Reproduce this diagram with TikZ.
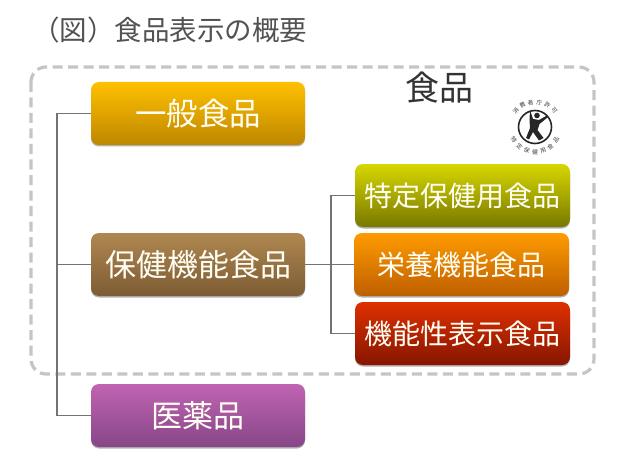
\documentclass[tikz,border=0pt]{standalone}
\usepackage{fontspec}
\setmainfont{Noto Sans CJK JP}
\usetikzlibrary{shadows}
\definecolor{linegray}{RGB}{115,115,115}
\definecolor{dashgray}{RGB}{195,198,201}
\newcommand{\lowered}[1]{\raisebox{-1.5pt}{#1}}
\tikzset{
  box/.style={rounded corners=8pt,minimum width=#1,minimum height=63pt,inner sep=0pt,text=white!96!yellow,
    drop shadow={shadow xshift=0pt,shadow yshift=-1.5pt,opacity=.3,fill=black}},
  box/.default=214pt,
  link/.style={draw=linegray,line width=1.6pt},
  logotext/.style={font=\fontsize{5.8}{5.8}\selectfont,text=black!75,inner sep=0pt}
}
\begin{document}
\begin{tikzpicture}[x=1pt,y=-1pt]
\useasboundingbox (0,0) rectangle (620,465);
\fill[white] (0,0) rectangle (620,465);
\node[anchor=west,inner sep=0pt,text=black!68,font=\fontsize{27.5}{27.5}\selectfont] (title) at (32,30) {（図）食品表示の概要};
\draw[dashgray,line width=3.2pt,dash pattern=on 10pt off 5.5pt,rounded corners=15pt] (31,67) rectangle (594,374);
\node[inner sep=0pt,text=black!80,font=\fontsize{34}{34}\selectfont] (food) at (439,88) {食品};

\node[box,shade,top color={rgb,255:red,255;green,192;blue,0},bottom color={rgb,255:red,190;green,135;blue,0},font=\fontsize{31.5}{31.5}\selectfont] (ippan) at (198,113.5) {\lowered{一般食品}};
\node[box,shade,top color={rgb,255:red,175;green,135;blue,80},bottom color={rgb,255:red,125;green,92;blue,52},font=\fontsize{31}{31}\selectfont] (hoken) at (198,264.5) {\lowered{保健機能食品}};
\node[box,shade,top color={rgb,255:red,192;green,100;blue,178},bottom color={rgb,255:red,135;green,70;blue,135},font=\fontsize{31}{31}\selectfont] (iyaku) at (198,415.5) {\lowered{医薬品}};
\node[box=215pt,shade,top color={rgb,255:red,215;green,215;blue,0},bottom color={rgb,255:red,120;green,120;blue,0},font=\fontsize{28}{28}\selectfont] (tokutei) at (462.5,195.5) {\lowered{特定保健用食品}};
\node[box=215pt,shade,top color={rgb,255:red,255;green,155;blue,0},bottom color={rgb,255:red,190;green,95;blue,0},font=\fontsize{28}{28}\selectfont] (eiyou) at (461.5,264.5) {\lowered{栄養機能食品}};
\node[box=215pt,shade,top color={rgb,255:red,222;green,48;blue,0},bottom color={rgb,255:red,135;green,22;blue,0},font=\fontsize{28}{28}\selectfont] (kinou) at (462.5,333.5) {\lowered{機能性表示食品}};

\draw[link] (ippan.west) -- ++(-34,0) |- (iyaku.west);
\draw[link] (hoken.west) -- ++(-34,0);
\draw[link] (hoken.east) -- (eiyou.west);
\draw[link] (tokutei.west) -- ++(-24,0) |- (kinou.west);

% logo
\draw[black!85,line width=1.6pt] (535,127) circle (16.5);
\fill[black!85] (537,115.5) circle (2.8)
  (530,110) -- (533,119) -- (539,120) -- (547,115.5) -- (547.5,117.5) -- (539.5,124) -- (537.5,130) -- (543.5,138) -- (539,140.5) -- (533,132) -- (529,139.5) -- (526,138) -- (530,128) -- (529.5,120) -- cycle;
\foreach \a/\t in {140/消,120/費,100/者,80/庁,60/許,40/可}{
  \node[logotext,rotate=\a-90] at ({535+25*cos(\a)},{127-25*sin(\a)}) {\t};
}
\foreach \a/\t in {212/特,232/定,251/保,270/健,289/用,308/食,328/品}{
  \node[logotext,rotate=\a+90] at ({535+25*cos(\a)},{127-25*sin(\a)}) {\t};
}
\end{tikzpicture}
\end{document}
